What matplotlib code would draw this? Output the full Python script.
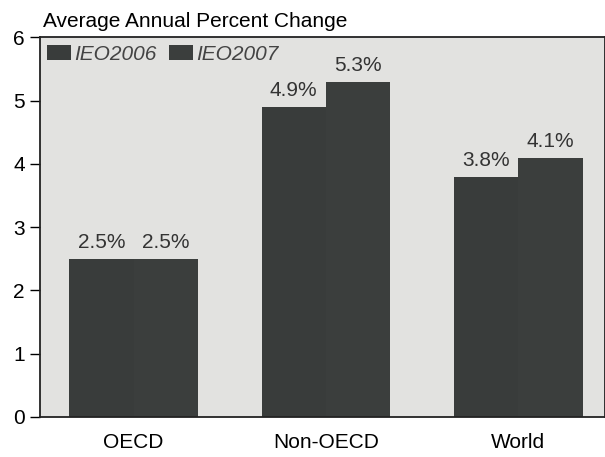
import numpy as np
import matplotlib.pyplot as plt
from matplotlib.patches import Rectangle
from matplotlib.legend_handler import HandlerPatch

plt.rcParams['font.family'] = ['Liberation Sans', 'DejaVu Sans']

regions = ['OECD', 'Non-OECD', 'World']
ieo2006 = [2.5, 4.9, 3.8]
ieo2007 = [2.5, 5.3, 4.1]
series_names = ['IEO2006', 'IEO2007']
yticks = [0, 1, 2, 3, 4, 5, 6]

bar_col = '#393c3b'
bg_col = '#e2e2e0'
fs = 15

def tall_box(legend, orig_handle, xdescent, ydescent, width, height, fontsize):
    # legend swatch a bit taller than matplotlib's default
    return Rectangle((-xdescent, -ydescent - 2), width, height + 5)

fig = plt.figure(figsize=(6.05, 4.57), dpi=100)
fig.patch.set_facecolor('white')
ax = fig.add_axes([0.066, 0.088, 0.934, 0.83])
ax.set_facecolor(bg_col)

x = np.arange(len(regions))
w = 0.335
b1 = ax.bar(x - w/2, ieo2006, w, color=bar_col, label=series_names[0])
b2 = ax.bar(x + w/2, ieo2007, w, color='#3b3e3d', label=series_names[1])

for bars, vals in [(b1, ieo2006), (b2, ieo2007)]:
    for r, v in zip(bars, vals):
        ax.annotate('{:.1f}%'.format(v), (r.get_x() + r.get_width()/2, v),
                    xytext=(0, 5), textcoords='offset points',
                    ha='center', va='bottom', fontsize=fs, color='#333333')

ax.set_xlim(-0.487, 2.45)
ax.set_ylim(0, 6)
ax.set_yticks(yticks)
ax.set_xticks(x)
ax.set_xticklabels(regions, fontsize=fs)
ax.tick_params(axis='y', labelsize=fs, length=7, width=1, direction='out', pad=4)
ax.tick_params(axis='x', length=0, pad=12)
for s in ['top', 'bottom', 'left', 'right']:
    ax.spines[s].set_linewidth(1.3)
    ax.spines[s].set_color('#222222')

leg = ax.legend(loc='upper left', ncol=2, frameon=False,
                prop={'style': 'italic', 'size': fs}, handlelength=1.15, handleheight=0.7,
                handletextpad=0.15, columnspacing=0.6, borderaxespad=0.1,
                borderpad=0.25, bbox_to_anchor=(0.0, 1.0),
                handler_map={Rectangle: HandlerPatch(patch_func=tall_box)})
for t in leg.get_texts():
    t.set_color('#444444')

fig.text(0.071, 0.953, 'Average Annual Percent Change', fontsize=fs, va='center', ha='left')

fig.savefig('out.png', dpi=100)
